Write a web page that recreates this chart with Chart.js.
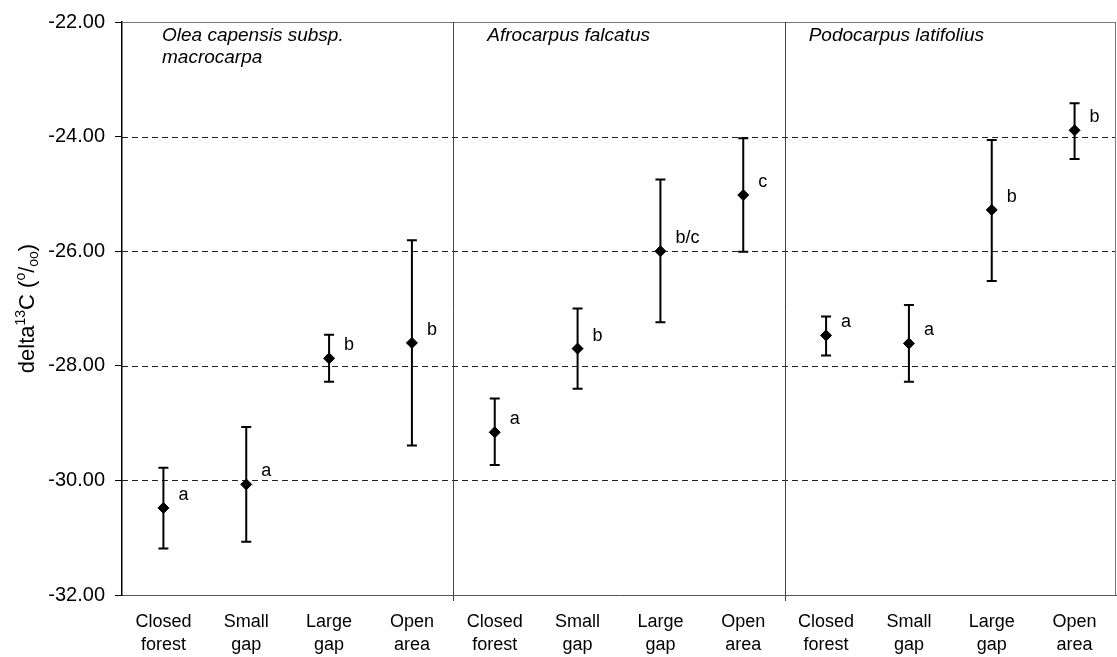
<!DOCTYPE html>
<html>
<head>
<meta charset="utf-8">
<script src="https://cdn.jsdelivr.net/npm/chart.js@4/dist/chart.umd.min.js"></script>
<style>
  html, body { margin: 0; padding: 0; background: #fff; }
  #wrap { width: 1117px; height: 657px; position: relative; }
</style>
</head>
<body>
<div id="wrap"><canvas id="c"></canvas></div>
<script>
// Habitat categories, repeated for each of the three species panels
const habitats = [['Closed', 'forest'], ['Small', 'gap'], ['Large', 'gap'], ['Open', 'area']];
const categories = [...habitats, ...habitats, ...habitats];
const species = [['Olea capensis subsp.', 'macrocarpa'], ['Afrocarpus falcatus'], ['Podocarpus latifolius']];

// Mean delta 13C per habitat (per mil) with error bar limits
const means = [-30.48, -30.07, -27.87, -27.60, -29.16, -27.70, -26.00, -25.02, -27.47, -27.61, -25.28, -23.89];
const upper = [-29.78, -29.07, -27.46, -25.81, -28.57, -27.00, -24.75, -24.03, -27.14, -26.94, -24.06, -23.42];
const lower = [-31.19, -31.07, -28.28, -29.39, -29.73, -28.40, -27.24, -26.01, -27.82, -28.28, -26.52, -24.39];
// Significance group letters
const letters = ['a', 'a', 'b', 'b', 'a', 'b', 'b/c', 'c', 'a', 'a', 'b', 'b'];
// Dashed reference levels on the y axis
const dashedLevels = [-24, -26, -28, -30];

const FONT = '"Liberation Sans", Arial, Helvetica, sans-serif';
// indent of each species name from its panel's left edge
const NAME_INDENT = [40, 34, 24];

const framePlugin = {
  id: 'frame',
  beforeDatasetsDraw(chart) {
    const { ctx, chartArea: a, scales: { x, y } } = chart;
    ctx.save();
    // dashed horizontal levels
    ctx.strokeStyle = '#222';
    ctx.lineWidth = 1;
    ctx.setLineDash([6, 4]);
    dashedLevels.forEach(v => {
      const py = Math.round(y.getPixelForValue(v)) + 0.5;
      ctx.beginPath(); ctx.moveTo(a.left, py); ctx.lineTo(a.right, py); ctx.stroke();
    });
    ctx.setLineDash([]);
    // top and right frame
    ctx.strokeStyle = '#777';
    ctx.beginPath();
    ctx.moveTo(a.left, a.top + 0.5); ctx.lineTo(a.right, a.top + 0.5);
    ctx.moveTo(a.right - 0.5, a.top); ctx.lineTo(a.right - 0.5, a.bottom);
    ctx.stroke();
    // panel separators between species groups
    ctx.strokeStyle = '#444';
    [4, 8].forEach(i => {
      const px = Math.round((x.getPixelForValue(i - 1) + x.getPixelForValue(i)) / 2) + 0.5;
      ctx.beginPath(); ctx.moveTo(px, a.top); ctx.lineTo(px, a.bottom + 6); ctx.stroke();
    });
    // error bars
    ctx.strokeStyle = '#000';
    ctx.lineWidth = 2;
    means.forEach((m, i) => {
      const px = x.getPixelForValue(i);
      const pt = y.getPixelForValue(upper[i]);
      const pb = y.getPixelForValue(lower[i]);
      ctx.beginPath();
      ctx.moveTo(px, pt); ctx.lineTo(px, pb);
      ctx.moveTo(px - 5, pt); ctx.lineTo(px + 5, pt);
      ctx.moveTo(px - 5, pb); ctx.lineTo(px + 5, pb);
      ctx.stroke();
    });
    ctx.restore();
  },
  afterDatasetsDraw(chart) {
    const { ctx, chartArea: a, scales: { x, y } } = chart;
    ctx.save();
    ctx.fillStyle = '#000';
    // group letters beside each mean
    ctx.font = '18px ' + FONT;
    ctx.textAlign = 'left';
    ctx.textBaseline = 'middle';
    means.forEach((m, i) => {
      ctx.fillText(letters[i], x.getPixelForValue(i) + 15, y.getPixelForValue(m) - 13);
    });
    // species names in each panel
    ctx.font = 'italic 19px ' + FONT;
    ctx.textBaseline = 'alphabetic';
    species.forEach((lines, k) => {
      const left = k === 0 ? a.left : (x.getPixelForValue(4 * k - 1) + x.getPixelForValue(4 * k)) / 2;
      lines.forEach((t, j) => ctx.fillText(t, left + NAME_INDENT[k], a.top + 19 + j * 22));
    });
    // y axis title with superscripts and subscripts
    const parts = [
      ['delta', 22, 0], ['13', 14, -9], ['C (', 22, 0], ['o', 14, -9], ['/', 22, 0], ['oo', 14, 4], [')', 22, 0]
    ];
    let total = 0;
    parts.forEach(p => { ctx.font = p[1] + 'px ' + FONT; total += ctx.measureText(p[0]).width; });
    ctx.translate(26, (a.top + a.bottom) / 2);
    ctx.rotate(-Math.PI / 2);
    let cx = -total / 2;
    parts.forEach(p => {
      ctx.font = p[1] + 'px ' + FONT;
      ctx.fillText(p[0], cx, 8 + p[2]);
      cx += ctx.measureText(p[0]).width;
    });
    ctx.restore();
  }
};

new Chart(document.getElementById('c'), {
  type: 'line',
  data: {
    labels: categories,
    datasets: [{
      data: means,
      showLine: false,
      pointStyle: 'rectRot',
      pointRadius: 5.5,
      pointHoverRadius: 5.5,
      pointBackgroundColor: '#000',
      pointBorderColor: '#000',
      pointBorderWidth: 1
    }]
  },
  options: {
    responsive: true,
    maintainAspectRatio: false,
    animation: false,
    events: [],
    layout: { autoPadding: false, padding: { top: 22, right: 1, bottom: 0, left: 0 } },
    plugins: { legend: { display: false }, tooltip: { enabled: false }, title: { display: false } },
    scales: {
      x: {
        type: 'category',
        offset: true,
        grid: { display: false },
        border: { display: true, color: '#555', width: 1 },
        ticks: {
          color: '#000', font: { family: FONT, size: 18, lineHeight: 1.3 },
          padding: 7, maxRotation: 0, autoSkip: false
        },
        afterFit(s) { s.height = 62; }
      },
      y: {
        min: -32, max: -22,
        grid: { drawOnChartArea: false, drawTicks: true, tickLength: 7, color: '#000' },
        border: { display: true, color: '#000', width: 1.5 },
        ticks: {
          stepSize: 2, color: '#000', padding: 10,
          font: { family: FONT, size: 20 },
          callback: v => v.toFixed(2)
        },
        afterFit(s) { s.width = 122; }
      }
    }
  },
  plugins: [framePlugin]
});
</script>
</body>
</html>
